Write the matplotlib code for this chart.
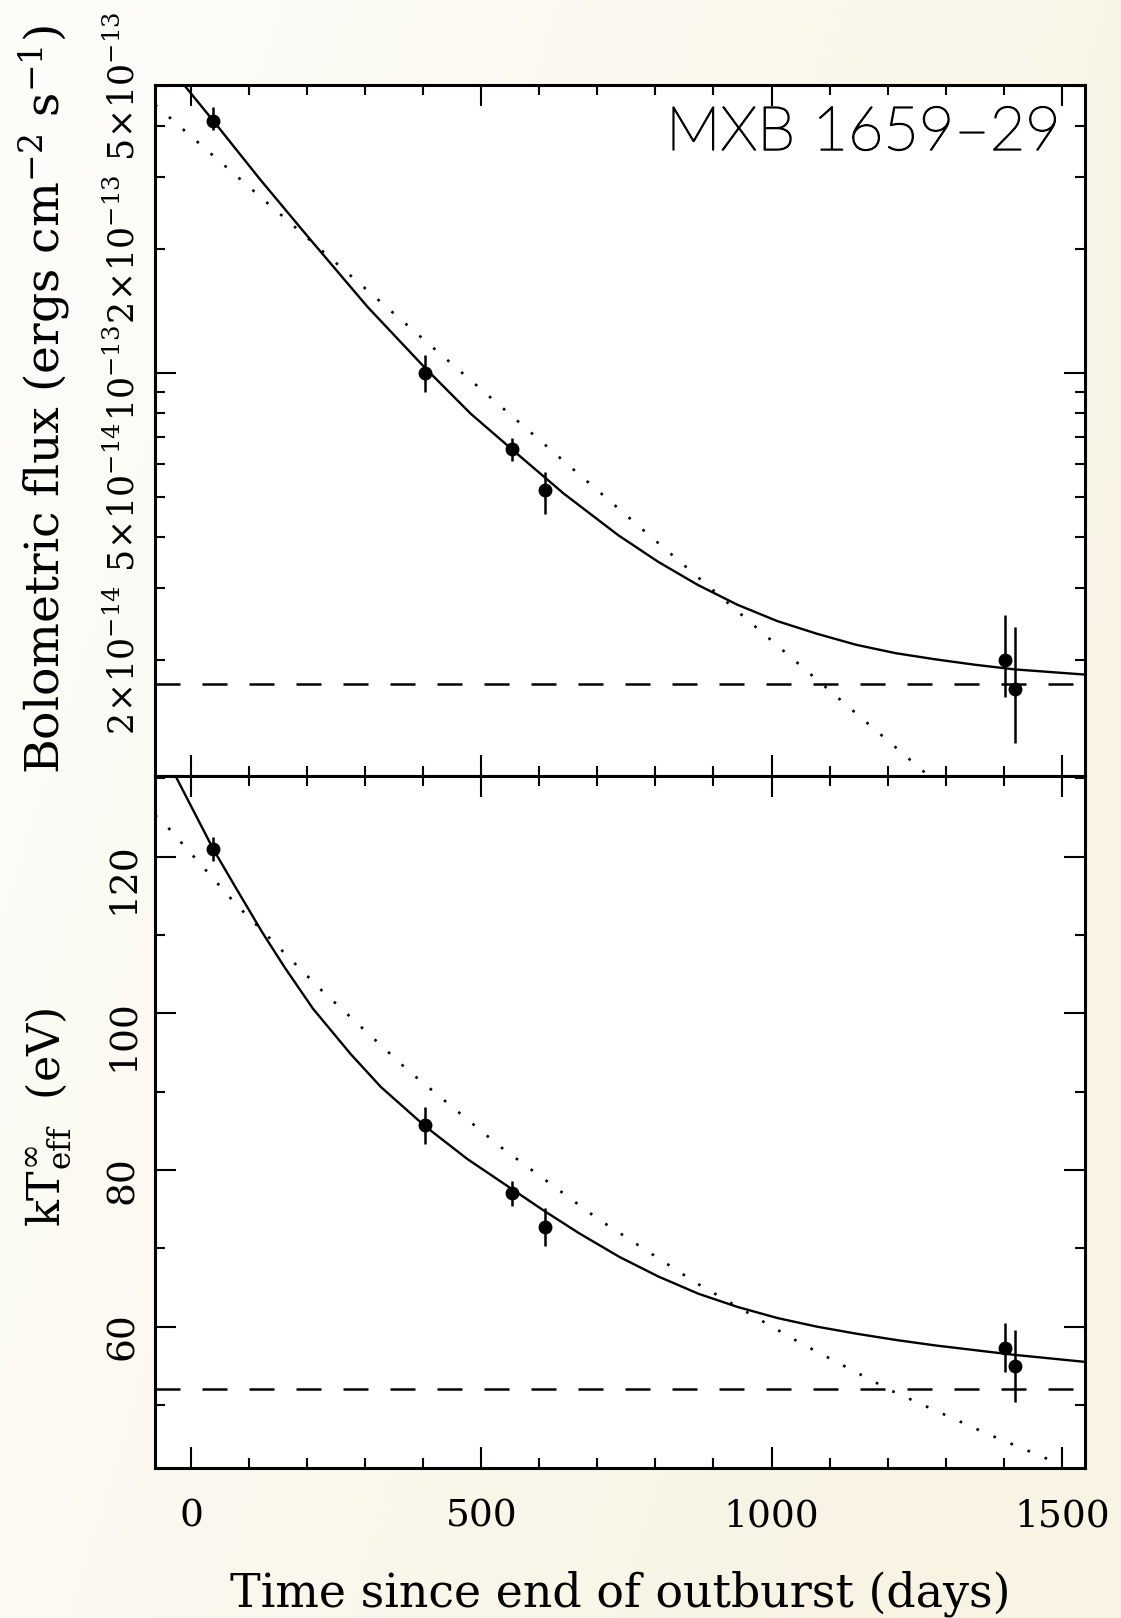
import numpy as np
import matplotlib
matplotlib.use("Agg")
import matplotlib.pyplot as plt
import matplotlib.patheffects as pe
from matplotlib.ticker import FixedLocator, FuncFormatter, MultipleLocator, NullFormatter

# observations (days since end of outburst)
days = [38, 403, 553, 610, 1403, 1419]
flux = [4.12e-13, 1.00e-13, 6.53e-14, 5.20e-14, 2.00e-14, 1.70e-14]
flux_lo = [3.91e-13, 0.902e-13, 6.12e-14, 4.55e-14, 1.63e-14, 1.26e-14]
flux_hi = [4.45e-13, 1.108e-13, 6.95e-14, 5.76e-14, 2.58e-14, 2.41e-14]
temp = [121.0, 85.7, 77.0, 72.7, 57.3, 55.0]
temp_err = [1.5, 2.4, 1.55, 2.4, 3.15, 4.6]

# fitted curves
fit_days = [-12, 38, 120, 206, 304, 403, 482, 554, 642, 736, 805, 873, 941,
            1010, 1078, 1146, 1214, 1282, 1350, 1418, 1540]
fit_flux = [5.03e-13, 4.12e-13, 2.95e-13, 2.11e-13, 1.45e-13, 1.03e-13, 7.96e-14,
            6.5e-14, 5.09e-14, 4.03e-14, 3.47e-14, 3.05e-14, 2.73e-14, 2.49e-14,
            2.32e-14, 2.18e-14, 2.08e-14, 2.01e-14, 1.95e-14, 1.90e-14, 1.845e-14]
line_days = [-62, 400, 800, 1271]
line_flux = [4.5e-13, 1.21e-13, 3.91e-14, 1.045e-14]
flux_floor = 1.75e-14

fit_tdays = [-26, 38, 75, 123, 161, 210, 275, 327, 403, 476, 554, 610, 669, 738,
             805, 874, 942, 1010, 1078, 1146, 1214, 1282, 1350, 1418, 1540]
fit_temp = [130.2, 121.0, 116.3, 110.3, 105.9, 100.6, 94.8, 90.6, 85.6, 81.4, 77.5,
            74.7, 71.9, 68.9, 66.4, 64.2, 62.5, 61.1, 60.0, 59.1, 58.3, 57.6,
            57.0, 56.4, 55.5]
exp_tdays = [-62, -40, 79, 224, 374, 534, 700, 872, 1051, 1207, 1369, 1479]
exp_temp = [125.3, 123.75, 113.8, 103.0, 92.7, 82.9, 73.8, 65.5, 57.85, 51.8, 46.4, 43.0]
temp_floor = 52.0

flux_labelled = [2e-14, 5e-14, 2e-13, 5e-13]
temp_ticks = [60, 80, 100, 120]

plt.rcParams["font.family"] = "DejaVu Serif"
plt.rcParams["mathtext.fontset"] = "dejavuserif"

fig = plt.figure(figsize=(11.21, 16.18), dpi=100)

# cream paper background
bg = fig.add_axes([0, 0, 1, 1], zorder=-10)
gx, gy = np.meshgrid(np.linspace(0, 1, 300), np.linspace(0, 1, 300))
w = np.clip(0.8 * gx + 0.35 * gy, 0, 1)[..., None]
c0 = np.array([253, 253, 250]) / 255
c1 = np.array([248, 243, 226]) / 255
bg.imshow(c0 * (1 - w) + c1 * w, aspect="auto", extent=[0, 1, 0, 1], origin="upper")
bg.axis("off")

ax1 = fig.add_axes([0.1383, 0.5204, 0.8296, 0.4271])
ax2 = fig.add_axes([0.1383, 0.0927, 0.8296, 0.4277])

tick_fs = 27
for ax in (ax1, ax2):
    ax.set_facecolor("white")
    for s in ax.spines.values():
        s.set_linewidth(2.2)
    ax.set_xlim(-62, 1540)
    ax.xaxis.set_major_locator(MultipleLocator(500))
    ax.xaxis.set_minor_locator(MultipleLocator(100))
    ax.tick_params(which="both", direction="in", top=True, right=True, width=1.5)
    ax.tick_params(which="major", length=15)
    ax.tick_params(which="minor", length=7.5)
    ax.tick_params(axis="y", labelrotation=90, labelsize=tick_fs, pad=10)
    ax.tick_params(axis="x", labelsize=tick_fs, pad=22)

# top panel: bolometric flux
ax1.set_yscale("log")
ax1.set_ylim(1.045e-14, 5.03e-13)
ax1.yaxis.set_major_locator(FixedLocator([1e-13]))
ax1.yaxis.set_major_formatter(FuncFormatter(lambda v, p: r"$10^{-13}$"))
minor = [m * 10.0 ** e for e in (-14, -13) for m in range(2, 10)]
ax1.yaxis.set_minor_locator(FixedLocator(minor))


def flux_label(v, pos):
    for t in flux_labelled:
        if abs(v / t - 1) < 1e-6:
            e = int(np.floor(np.log10(t) + 1e-9))
            m = int(round(t / 10.0 ** e))
            return r"$%d\!\times\!10^{%d}$" % (m, e)
    return ""


ax1.yaxis.set_minor_formatter(FuncFormatter(flux_label))
ax1.tick_params(axis="y", which="both", labelrotation=90, labelsize=25, pad=10)
for lab in ax1.get_yticklabels(which="both"):
    lab.set_va("center")
ax1.xaxis.set_major_formatter(NullFormatter())

ax1.plot(fit_days, fit_flux, color="black", lw=1.7)
ax1.plot(line_days, line_flux, color="black", lw=1.9, linestyle=(0, (1, 6)))
ax1.axhline(flux_floor, color="black", lw=1.8, linestyle=(0, (10, 8.8)))
yerr = [np.array(flux) - np.array(flux_lo), np.array(flux_hi) - np.array(flux)]
ax1.errorbar(days, flux, yerr=yerr, fmt="o", color="black", ms=9,
             elinewidth=1.8, capsize=0)
ax1.set_ylabel(r"Bolometric flux (ergs cm$^{-2}$ s$^{-1}$)", fontsize=34)
ax1.yaxis.set_label_coords(-0.088, 0.545)
ax1.text(0.974, 0.906, "MXB 1659\u201329", transform=ax1.transAxes, ha="right",
         va="baseline", fontsize=44, family="Lato", weight="light", color="black",
         path_effects=[pe.withStroke(linewidth=1.1, foreground="black")])

# bottom panel: effective temperature
ax2.set_ylim(41.95, 130.3)
ax2.yaxis.set_major_locator(FixedLocator(temp_ticks))
ax2.yaxis.set_minor_locator(MultipleLocator(10))
ax2.plot(fit_tdays, fit_temp, color="black", lw=1.7)
ax2.plot(exp_tdays, exp_temp, color="black", lw=1.9, linestyle=(0, (1, 6)))
ax2.axhline(temp_floor, color="black", lw=1.8, linestyle=(0, (10, 8.8)))
ax2.errorbar(days, temp, yerr=temp_err, fmt="o", color="black", ms=9,
             elinewidth=1.8, capsize=0)
ax2.set_ylabel(r"$\mathrm{kT}^{\infty}_{\mathrm{eff}}$  (eV)", fontsize=32)
ax2.yaxis.set_label_coords(-0.088, 0.507)
ax2.set_xlabel("Time since end of outburst (days)", fontsize=33, labelpad=26)

fig.savefig("out.png", dpi=100)
